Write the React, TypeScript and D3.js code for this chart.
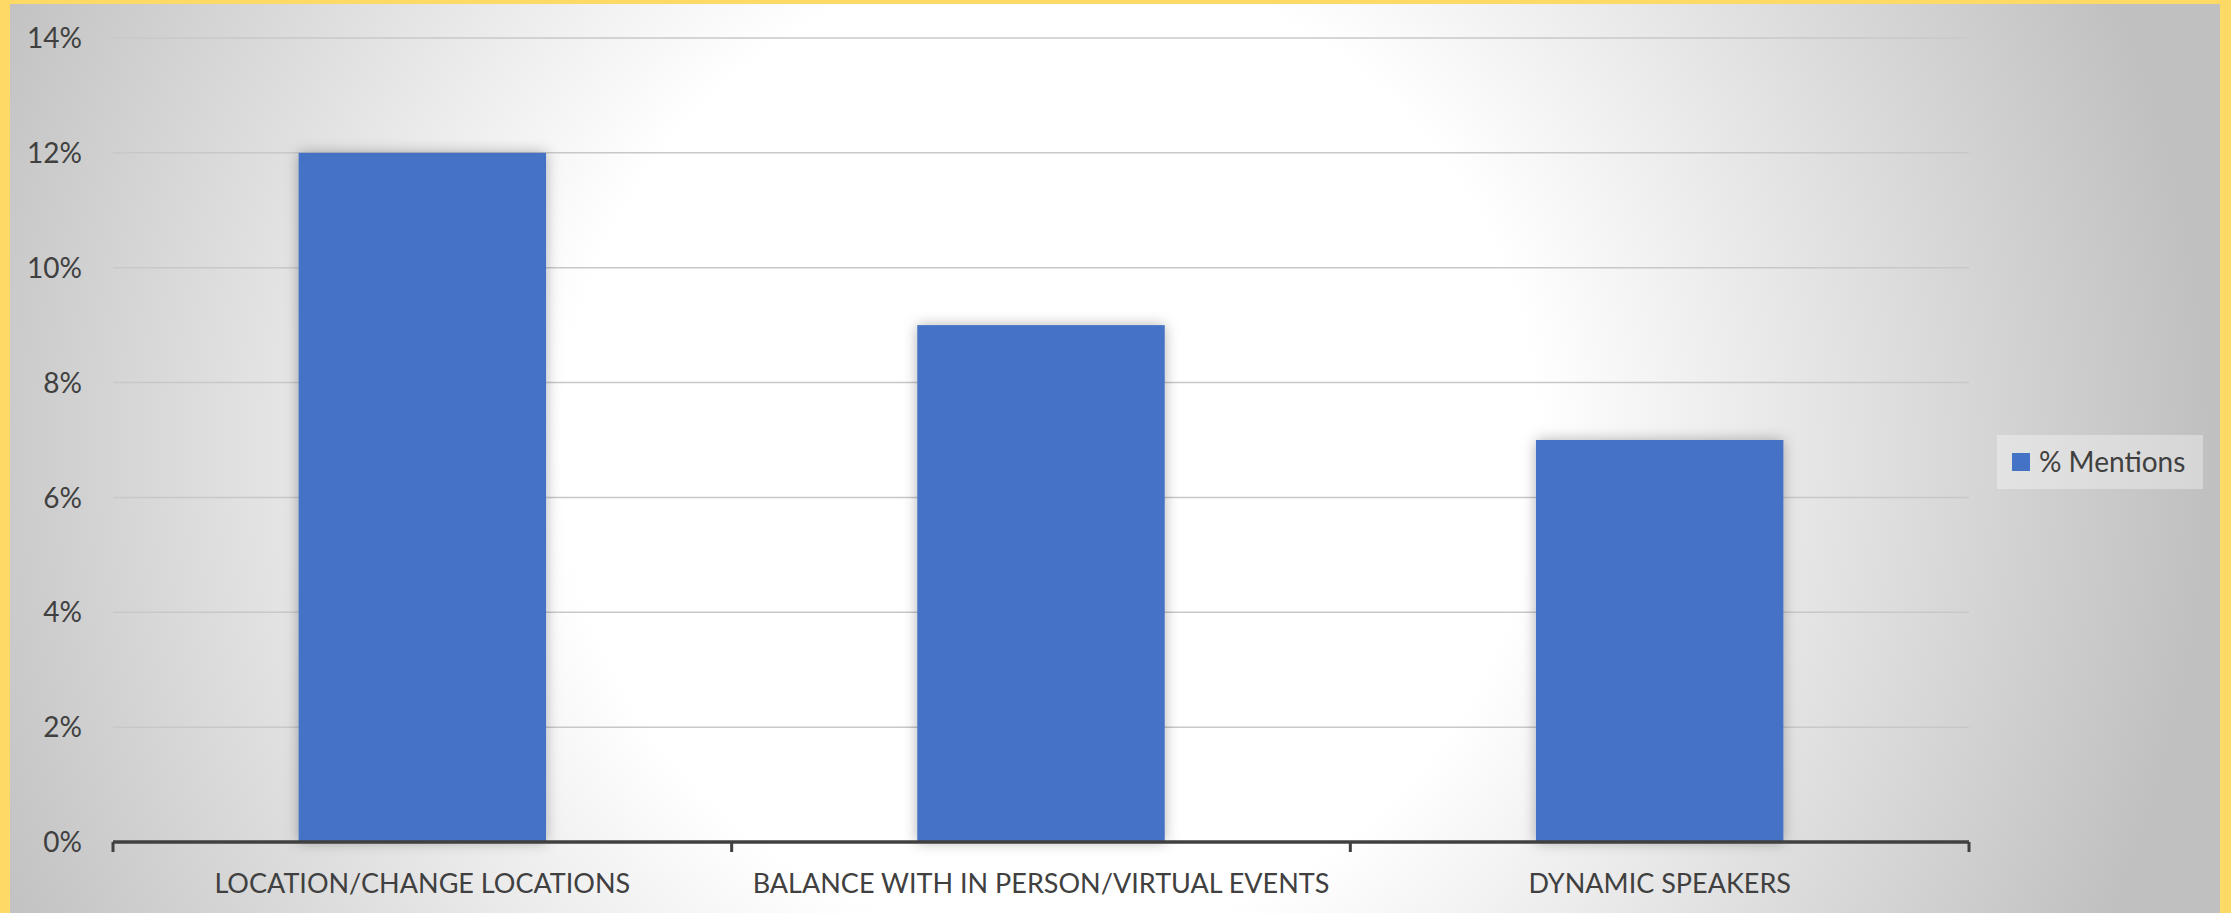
import { useEffect } from "react";
import { scaleBand, scaleLinear } from "d3";

const categories = [
  "LOCATION/CHANGE LOCATIONS",
  "BALANCE WITH IN PERSON/VIRTUAL EVENTS",
  "DYNAMIC SPEAKERS",
];
const mentions = [0.12, 0.09, 0.07];
const yTicks = [0, 0.02, 0.04, 0.06, 0.08, 0.1, 0.12, 0.14];
const seriesName = "% Mentions";

const W = 2231;
const H = 913;
const FONT = "Lato, 'Open Sans', sans-serif";

export default function App() {
  useEffect(() => {
    document.body.style.margin = "0";
    document.body.style.overflow = "hidden";
  }, []);

  // plot area
  const left = 113;
  const right = 1969;
  const top = 38;
  const bottom = 842;

  const x = scaleBand<string>()
    .domain(categories)
    .range([left, right])
    .paddingInner(0.6)
    .paddingOuter(0.3);
  const y = scaleLinear().domain([0, 0.14]).range([bottom, top]);

  const step = x.step();
  const catTicks = [left, ...categories.map((c) => (x(c) ?? 0) - step * 0.3 + step)];

  return (
    <svg width={W} height={H} style={{ display: "block" }} fontFamily={FONT}>
      <defs>
        <radialGradient id="bg" gradientUnits="userSpaceOnUse" cx={1050} cy={450} r={1160}>
          <stop offset="0%" stopColor="#ffffff" />
          <stop offset="42%" stopColor="#ffffff" />
          <stop offset="100%" stopColor="#c0c0c0" />
        </radialGradient>
        <filter id="shadow" x="-20%" y="-20%" width="140%" height="140%">
          <feDropShadow dx="0" dy="0" stdDeviation="7" floodColor="#000" floodOpacity="0.3" />
        </filter>
      </defs>

      {/* yellow frame */}
      <rect x={0} y={0} width={W} height={H} fill="#FFD966" />
      <rect x={10} y={4} width={2210} height={H - 4} fill="url(#bg)" />

      {/* grid lines */}
      {yTicks
        .filter((t) => t > 0)
        .map((t) => (
          <line
            key={t}
            x1={left}
            x2={right}
            y1={y(t)}
            y2={y(t)}
            stroke="#c8c8c8"
            strokeWidth={1.5}
          />
        ))}

      {/* y labels */}
      {yTicks.map((t) => (
        <text
          key={t}
          x={82}
          y={y(t)}
          dy="0.36em"
          textAnchor="end"
          fontSize={28}
          fill="#404040"
        >
          {Math.round(t * 100)}%
        </text>
      ))}

      {/* bars */}
      {categories.map((c, i) => (
        <rect
          key={c}
          x={x(c)}
          y={y(mentions[i])}
          width={x.bandwidth()}
          height={bottom - y(mentions[i])}
          fill="#4472C4"
          filter="url(#shadow)"
        />
      ))}

      {/* x axis */}
      <line x1={left} x2={right} y1={bottom} y2={bottom} stroke="#404040" strokeWidth={3.5} />
      {catTicks.map((t, i) => (
        <line key={i} x1={t} x2={t} y1={bottom} y2={bottom + 10} stroke="#404040" strokeWidth={3} />
      ))}
      {categories.map((c) => (
        <text
          key={c}
          x={(x(c) ?? 0) + x.bandwidth() / 2}
          y={893}
          textAnchor="middle"
          fontSize={27}
          fill="#404040"
        >
          {c}
        </text>
      ))}

      {/* legend */}
      <rect x={1997} y={435} width={206} height={54} fill="#ffffff" fillOpacity={0.35} />
      <rect x={2012} y={453} width={18} height={18} fill="#4472C4" />
      <text x={2039} y={472} fontSize={28} fill="#404040">
        {seriesName}
      </text>
    </svg>
  );
}
